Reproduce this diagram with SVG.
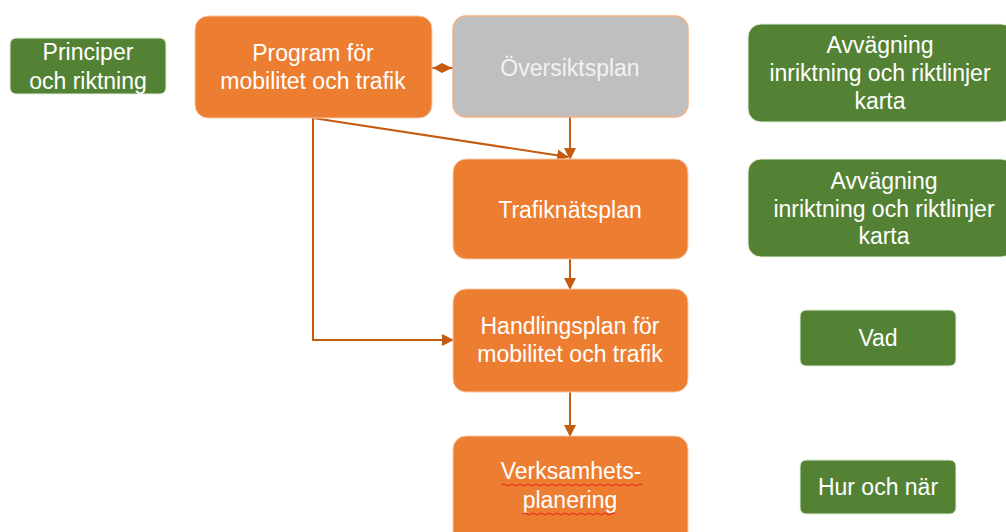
<svg xmlns="http://www.w3.org/2000/svg" width="1006" height="532" viewBox="0 0 1006 532">
<defs>
<marker id="arr" markerUnits="userSpaceOnUse" markerWidth="12" markerHeight="12" refX="11" refY="6" orient="auto">
<path d="M0,0 L12,6 L0,12 z" fill="#C55A11"/>
</marker>
<style>
.or{fill:#ED7D31;stroke:#F8CBAD;stroke-width:1}
.gr{fill:#548235;stroke:#E2EFD9;stroke-width:1}
.gy{fill:#BFBFBF;stroke:#F4B183;stroke-width:1.5}
.t{font-family:"Liberation Sans",Arial,sans-serif;font-size:23px;fill:#FFFFFF;text-anchor:middle}
.tg{fill:#F2F2F2}
.c{fill:none;stroke:#C55A11;stroke-width:2}
.sq{fill:none;stroke:#E02020;stroke-width:1}
</style>
</defs>
<rect width="1006" height="532" fill="#FFFFFF"/>
<g id="connectors">
<line class="c" x1="570" y1="117" x2="570" y2="159" marker-end="url(#arr)"/>
<line class="c" x1="313" y1="118" x2="568" y2="157" marker-end="url(#arr)"/>
<polyline class="c" points="313,118 313,340 453,340" marker-end="url(#arr)"/>
<line class="c" x1="570" y1="259" x2="570" y2="289" marker-end="url(#arr)"/>
<line class="c" x1="570" y1="392" x2="570" y2="436" marker-end="url(#arr)"/>
<line class="c" x1="432" y1="68" x2="453" y2="68"/>
<polygon points="433,68 442,63 452,68 442,73" fill="#C55A11"/>
</g>
<g id="principer">
<rect class="gr" x="10" y="38" width="156" height="56" rx="6"/>
<text class="t" x="88" y="60">Principer</text>
<text class="t" x="88" y="89">och riktning</text>
</g>
<g id="program">
<rect class="or" x="195" y="16" width="237" height="102" rx="13"/>
<text class="t" x="313" y="61">Program för</text>
<text class="t" x="313" y="89">mobilitet och trafik</text>
</g>
<g id="oversiktsplan">
<rect class="gy" x="453" y="16" width="235" height="101" rx="13"/>
<text class="t tg" x="570" y="76">Översiktsplan</text>
</g>
<g id="avvagning1">
<rect class="gr" x="748" y="24" width="266" height="98" rx="13"/>
<text class="t" x="880" y="53">Avvägning</text>
<text class="t" x="880" y="81">inriktning och riktlinjer</text>
<text class="t" x="880" y="109">karta</text>
</g>
<g id="trafiknatsplan">
<rect class="or" x="453" y="159" width="235" height="100" rx="13"/>
<text class="t" x="570" y="218">Trafiknätsplan</text>
</g>
<g id="avvagning2">
<rect class="gr" x="748" y="159" width="266" height="98" rx="13"/>
<text class="t" x="884" y="189">Avvägning</text>
<text class="t" x="884" y="217">inriktning och riktlinjer</text>
<text class="t" x="884" y="244">karta</text>
</g>
<g id="handlingsplan">
<rect class="or" x="453" y="289" width="235" height="103" rx="13"/>
<text class="t" x="570" y="334">Handlingsplan för</text>
<text class="t" x="570" y="362">mobilitet och trafik</text>
</g>
<g id="vad">
<rect class="gr" x="800" y="310" width="156" height="56" rx="6"/>
<text class="t" x="878" y="346">Vad</text>
</g>
<g id="verksamhetsplanering">
<rect class="or" x="453" y="436" width="235" height="110" rx="13"/>
<text class="t" x="571" y="479">Verksamhets-</text>
<text class="t" x="570" y="508">planering</text>
<path class="sq" d="M502,485 q2,-2 4,0 t4,0 t4,0 t4,0 t4,0 t4,0 t4,0 t4,0 t4,0 t4,0 t4,0 t4,0 t4,0 t4,0 t4,0 t4,0 t4,0 t4,0 t4,0 t4,0 t4,0 t4,0 t4,0 t4,0 t4,0 t4,0 t4,0 t4,0 t4,0 t4,0 t4,0 t4,0 t4,0 t4,0 t4,0"/>
<path class="sq" d="M523,514 q2,-2 4,0 t4,0 t4,0 t4,0 t4,0 t4,0 t4,0 t4,0 t4,0 t4,0 t4,0 t4,0 t4,0 t4,0 t4,0 t4,0 t4,0 t4,0 t4,0 t4,0 t4,0 t4,0 t4,0"/>
</g>
<g id="hur">
<rect class="gr" x="800" y="460" width="156" height="54" rx="6"/>
<text class="t" x="878" y="495">Hur och när</text>
</g>
</svg>
